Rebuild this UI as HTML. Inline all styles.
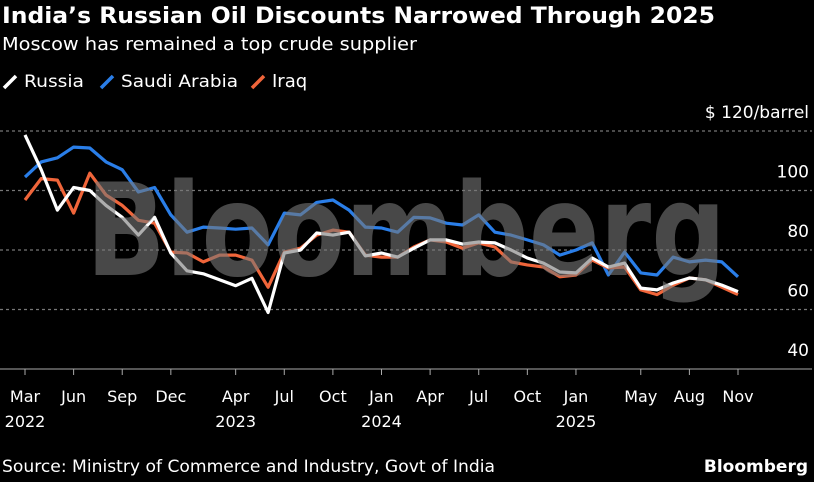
<!DOCTYPE html>
<html><head><meta charset="utf-8"><style>
body{margin:0;background:#000;width:814px;height:478px;overflow:hidden;font-family:"DejaVu Sans",sans-serif;color:#fff}
svg text{font-family:"DejaVu Sans",sans-serif}
</style></head><body>
<svg id="c" width="814" height="478" viewBox="0 0 814 478" xmlns="http://www.w3.org/2000/svg">
<text x="2" y="23" font-size="22" font-weight="bold" fill="#fff" textLength="713" lengthAdjust="spacingAndGlyphs">India’s Russian Oil Discounts Narrowed Through 2025</text>
<text x="2" y="50" font-size="18" fill="#fff" textLength="415" lengthAdjust="spacingAndGlyphs">Moscow has remained a top crude supplier</text>
<g>
<line x1="4" y1="88" x2="16" y2="76" stroke="#fff" stroke-width="3.5"/><text x="24" y="87" font-size="17" fill="#fff" textLength="60" lengthAdjust="spacingAndGlyphs">Russia</text>
<line x1="101" y1="88" x2="113" y2="76" stroke="#2a7ee8" stroke-width="3.5"/><text x="121" y="87" font-size="17" fill="#fff" textLength="117" lengthAdjust="spacingAndGlyphs">Saudi Arabia</text>
<line x1="252" y1="88" x2="264" y2="76" stroke="#f0653a" stroke-width="3.5"/><text x="272" y="87" font-size="18" fill="#fff">Iraq</text>
</g>
<g id="grid"></g><g id="lines"></g>
<text x="406" y="275" font-size="128" font-weight="bold" text-anchor="middle" fill="rgb(120,120,120)" fill-opacity="0.6" textLength="640" lengthAdjust="spacingAndGlyphs">Bloomberg</text>
<g id="xt"></g>
<text x="2" y="472" font-size="17" fill="#fff" textLength="493" lengthAdjust="spacingAndGlyphs">Source: Ministry of Commerce and Industry, Govt of India</text>
<text x="808" y="472" font-size="17" font-weight="bold" text-anchor="end" fill="#fff">Bloomberg</text>
</svg>
<script>
const russia=[118.7,107,93.4,101,100,95,91,85,91,79,73,72,70,68,70.5,59,79,80,85.7,85,86,78,79,77.6,80.6,83.4,83.4,82,82.7,82.4,80,77.3,75.6,72.6,72.3,77.3,74.3,75.6,67.2,66.6,68.9,70.6,70,68.2,66];
const saudi=[104.5,109.6,111,114.6,114.3,109.6,107,99.5,101,91.8,86,87.7,87.4,87,87.4,81.7,92.4,91.8,96,96.8,93.4,87.7,87.4,86,91,90.8,89,88.4,91.8,86,85,83.4,81.7,78.3,80,82.4,71.6,79.3,72.3,71.6,77.6,76,76.6,76,71];
const iraq=[96.8,104,103.5,92.4,105.8,98.5,95,90,89,79.3,79,76,78.3,78.3,76.6,67.5,79.3,80.6,85,86.7,86,78.3,77.6,77.6,81,83.4,82.7,80.6,82.4,81,76,75,74.3,71,71.6,76.6,74,74.3,66.6,65,68.2,70.6,70,67.5,65];
const yTicks=[120,100,80,60,40];
const yTickLabels=["$ 120/barrel","100","80","60","40"];
const xTickIdx=[0,3,6,9,13,16,19,22,25,28,31,34,38,41,44];
const xTickLabels=["Mar","Jun","Sep","Dec","Apr","Jul","Oct","Jan","Apr","Jul","Oct","Jan","May","Aug","Nov"];
const xYearLabels=["2022","","","","2023","","","2024","","","","2025","","",""];
const NS="http://www.w3.org/2000/svg";
const X=i=>25+i*(713/44);
const Y=v=>131+(120-v)*2.975;
const grid=document.getElementById('grid');
yTicks.forEach((t,k)=>{
  if(t>40){const l=document.createElementNS(NS,'line');
  l.setAttribute('x1',0);l.setAttribute('x2',812);l.setAttribute('y1',Y(t));l.setAttribute('y2',Y(t));
  l.setAttribute('stroke','#777');l.setAttribute('stroke-width','1.3');l.setAttribute('stroke-dasharray','3 3');
  
  
  grid.appendChild(l);}
  const tx=document.createElementNS(NS,'text');
  tx.setAttribute('x',809);tx.setAttribute('y',Y(t)-13);tx.setAttribute('text-anchor','end');
  tx.setAttribute('font-size','17');tx.setAttribute('fill','#fff');tx.textContent=yTickLabels[k];
  
  
  grid.appendChild(tx);
});
const ax=document.createElementNS(NS,'line');
ax.setAttribute('x1',0);ax.setAttribute('x2',812);ax.setAttribute('y1',Y(40));ax.setAttribute('y2',Y(40));ax.setAttribute('stroke','#aaa');ax.setAttribute('stroke-width','1');


grid.appendChild(ax);
const lines=document.getElementById('lines');
[[saudi,'#2a7ee8','saudi-arabia-line'],[iraq,'#f0653a','iraq-line'],[russia,'#fff','russia-line']].forEach(([d,c,n])=>{
  const p=document.createElementNS(NS,'polyline');
  p.setAttribute('points',d.map((v,i)=>X(i).toFixed(1)+','+Y(v).toFixed(1)).join(' '));
  p.setAttribute('fill','none');p.setAttribute('stroke',c);p.setAttribute('stroke-width','3.2');p.setAttribute('stroke-linejoin','round');
  
  
  lines.appendChild(p);
});
const xt=document.getElementById('xt');
xTickIdx.forEach((i,k)=>{
  const tk=document.createElementNS(NS,'line');
  tk.setAttribute('x1',X(i));tk.setAttribute('x2',X(i));tk.setAttribute('y1',Y(40));tk.setAttribute('y2',Y(40)+6);tk.setAttribute('stroke','#aaa');
  
  
  xt.appendChild(tk);
  const t=document.createElementNS(NS,'text');
  t.setAttribute('x',X(i));t.setAttribute('y',402);t.setAttribute('text-anchor','middle');t.setAttribute('font-size','16');t.setAttribute('fill','#fff');
  t.textContent=xTickLabels[k];
  
  
  xt.appendChild(t);
  if(xYearLabels[k]){const y=document.createElementNS(NS,'text');
  y.setAttribute('x',X(i));y.setAttribute('y',427);y.setAttribute('text-anchor','middle');y.setAttribute('font-size','16');y.setAttribute('fill','#fff');
  y.textContent=xYearLabels[k];
  
  
  xt.appendChild(y);}
});
</script>
</body></html>
